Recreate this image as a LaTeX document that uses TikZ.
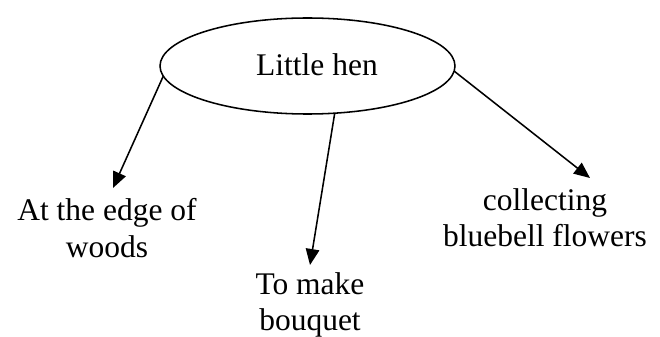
\documentclass[tikz,border=0pt]{standalone}
\usepackage{fontspec}
\setmainfont{Liberation Serif}
\usepackage{tikz}
\usetikzlibrary{arrows.meta}
\usetikzlibrary{shapes.geometric}
\tikzset{l/.style={font=\fontsize{22.4}{25.9}\selectfont, align=center, inner sep=0pt}}
\tikzset{oval/.style={draw, ellipse, line width=1.1pt, minimum width=7.375cm, minimum height=2.4cm, inner sep=0pt, outer sep=0pt}}
\tikzset{>={Triangle[length=0.4cm,width=0.34cm]}}

\begin{document}
\begin{tikzpicture}
          \useasboundingbox (0,0) rectangle (16.5,8.425);
          \node [oval] (hen) at (7.6875,6.775) {};
          \node [l, anchor=base] (henlabel) at (7.925,6.525) {Little hen};
          \node [l] (edge) at (2.675,2.725) {At the edge of\\woods};
          \node [l] (bouquet) at (7.75,0.8) {To make\\bouquet};
          \node [l] (flowers) at (13.625,2.975) {collecting\\bluebell flowers};
          \coordinate (tipedge) at (2.825,3.725);
          \coordinate (tipbouquet) at (7.75,1.8);
          \coordinate (tipflowers) at (14.75,3.975);
          \draw [->, line width=1.1pt] (hen.184.8) -- (tipedge);
          \draw [->, line width=1.1pt] (hen.300.7) -- (tipbouquet);
          \draw [->, line width=1.1pt] (hen.358.4) -- (tipflowers);
        \end{tikzpicture}
\end{document}
